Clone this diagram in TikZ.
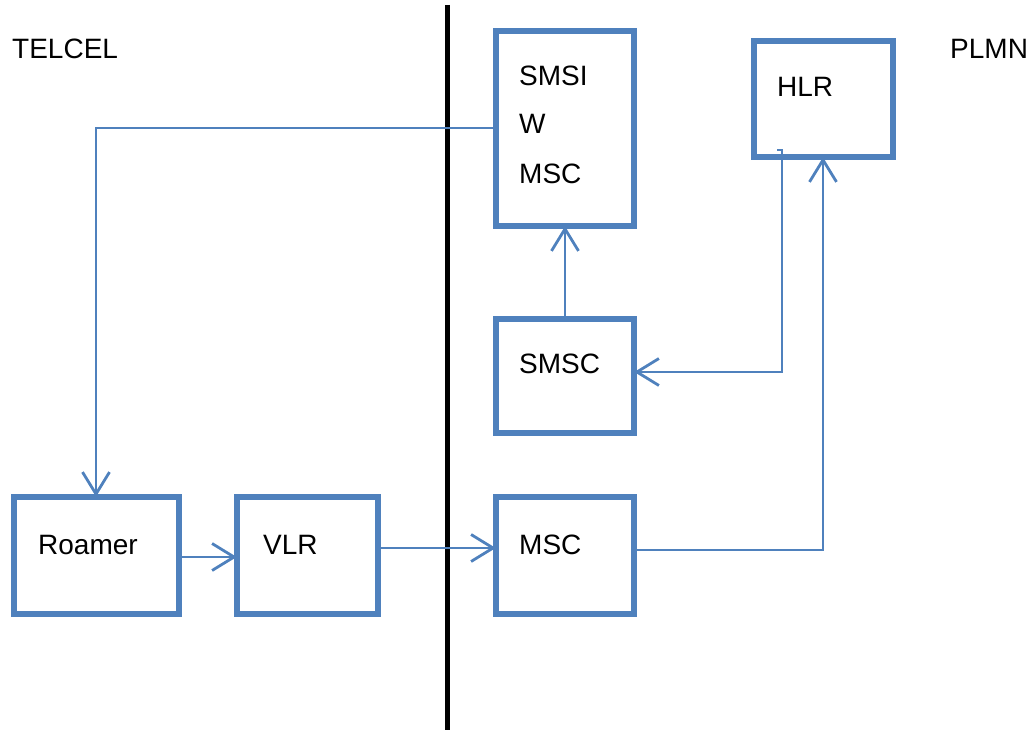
\documentclass[tikz,border=0pt]{standalone}
\usepackage{fontspec}
\setmainfont{Liberation Sans}
\usetikzlibrary{arrows.meta}
\definecolor{boxblue}{RGB}{79,129,189}
\tikzset{
  box/.style={draw=boxblue, line width=5.5pt, rectangle, inner sep=0pt},
  lbl/.style={anchor=base west, inner sep=0pt, font=\fontsize{28}{32}\selectfont},
  conn/.style={draw=boxblue, line width=2.8pt, shorten >=-2.5pt, -{Straight Barb[length=22pt,width=27pt,line width=2.8pt]}},
}
\begin{document}
\begin{tikzpicture}[x=1pt,y=-1pt]
\useasboundingbox (0,0) rectangle (1034,730);
\draw[line width=5pt] (447,5) -- (447,730);
\node[box, minimum width=138pt, minimum height=195pt] (smsiw) at (565,128.5) {};
\node[box, minimum width=139pt, minimum height=116pt] (hlr) at (823.5,99) {};
\node[box, minimum width=138pt, minimum height=114pt] (smsc) at (565,376) {};
\node[box, minimum width=165pt, minimum height=117pt] (roamer) at (96.5,555.5) {};
\node[box, minimum width=141pt, minimum height=117pt] (vlr) at (307.5,555.5) {};
\node[box, minimum width=138pt, minimum height=117pt] (msc) at (565,555.5) {};
\node[lbl] (telcel) at (12,59) {TELCEL};
\node[lbl] (plmn) at (950,59) {PLMN};
\node[lbl] (thlr) at (777,97) {HLR};
\node[lbl] (t1) at (519,86) {SMSI};
\node[lbl] (t2) at (519,134) {W};
\node[lbl] (t3) at (519,184) {MSC};
\node[lbl] (tsmsc) at (519,373) {SMSC};
\node[lbl] (troam) at (38,554) {Roamer};
\node[lbl] (tvlr) at (263,554) {VLR};
\node[lbl] (tmsc) at (519,554) {MSC};
\draw[conn] (smsiw.west |- 0,128) -| (roamer.north -| 96,0);
\draw[conn] (smsc.north) -- (smsiw.south);
\coordinate (hk) at (777,150);
\draw[conn] (hk) -- (782,150) -- (782,372) -- (smsc.east |- 0,372);
\draw[conn] (msc.east |- 0,550) -| (hlr.south -| 823,0);
\draw[conn] (roamer.east |- 0,557) -- (vlr.west |- 0,557);
\draw[conn] (vlr.east |- 0,548) -- (msc.west |- 0,548);
\end{tikzpicture}
\end{document}
